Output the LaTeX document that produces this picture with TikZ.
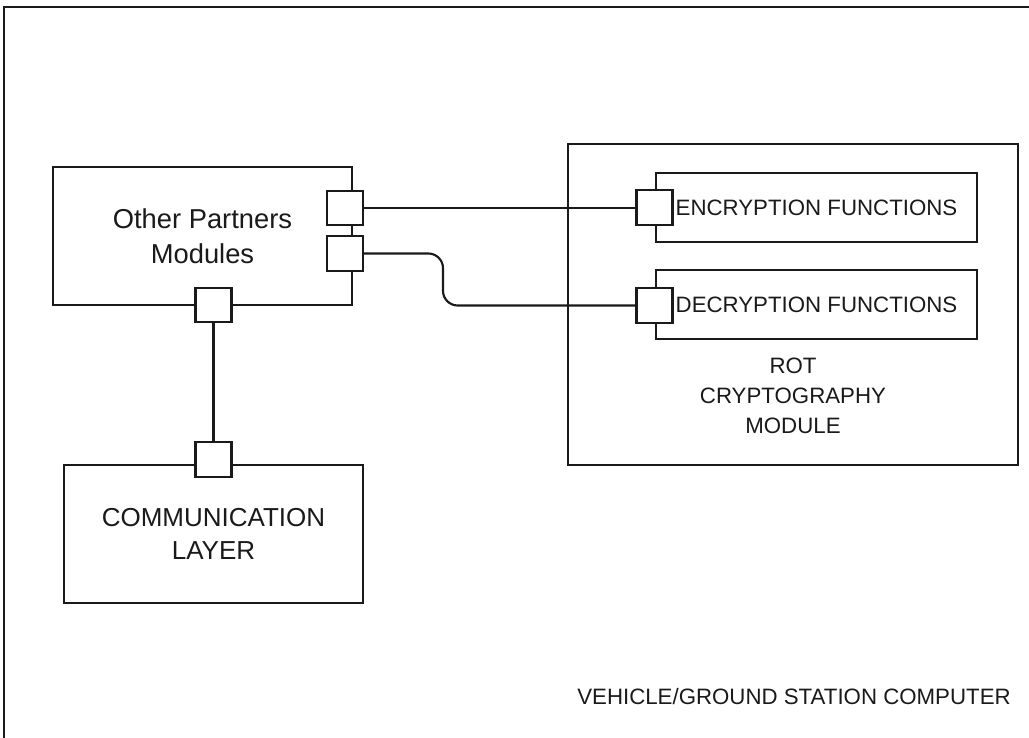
\documentclass[tikz,border=0pt]{standalone}
\usepackage{fontspec}
\setmainfont{Liberation Sans}
\definecolor{ink}{HTML}{1A1A1A}
\begin{document}
\begin{tikzpicture}[x=0.75pt,y=-0.75pt,
  box/.style={draw=ink,line width=1.6pt,fill=white,rectangle,inner sep=0pt,align=center,text=ink},
  port/.style={draw=ink,line width=1.6pt,fill=white,rectangle,inner sep=0pt,minimum width=27pt,minimum height=26pt},
  wire/.style={draw=ink,line width=1.6pt},
  lbl/.style={text=ink,align=center,inner sep=0pt}]
\useasboundingbox (0,0) rectangle (1029,738);
\begin{scope}
\clip (0,0) rectangle (1029,738);
\draw[ink,line width=1.7pt] (4,7) rectangle (1045,760);
\end{scope}
% ROT module
\node[box,minimum width=337.5pt,minimum height=240.75pt] (rot) at (793,304.5) {};
\node[box,minimum width=240.75pt,minimum height=51.75pt,font=\fontsize{16.7}{20}\selectfont] (enc) at (816.5,207.5) {ENCRYPTION FUNCTIONS};
\node[box,minimum width=240.75pt,minimum height=51.75pt,font=\fontsize{16.7}{20}\selectfont] (dec) at (816.5,304.5) {DECRYPTION FUNCTIONS};
\node[lbl,font=\fontsize{16.7}{22.5}\selectfont] (rotlbl) at (793,396) {ROT\\CRYPTOGRAPHY\\MODULE};
% Other partners
\node[box,minimum width=224.25pt,minimum height=103.5pt,font=\fontsize{20.5}{26.2}\selectfont] (other) at (202.5,236) {Other Partners\\Modules};
% Communication layer
\node[box,minimum width=224.25pt,minimum height=103.5pt,font=\fontsize{19.5}{24.7}\selectfont] (comm) at (213.5,534) {COMMUNICATION\\LAYER};
% ports
\node[port] (p1) at (345,208) {};
\node[port] (p2) at (345,253.5) {};
\node[port] (p3) at (213.5,305) {};
\node[port] (p4) at (213.5,459.5) {};
\node[port] (pe) at (654.5,207.5) {};
\node[port] (pd) at (654.5,305.5) {};
% connectors
\draw[wire] (p1.east) -- (p1.east -| pe.west);
\draw[wire,rounded corners=11pt] (p2.east) -- (443,253.5) -- (443,305.5) -- (pd.west);
\draw[wire] (p3.south) -- (p4.north);
% frame label
\node[lbl,font=\fontsize{16.7}{20}\selectfont] (frame) at (794,697) {VEHICLE/GROUND STATION COMPUTER};
\end{tikzpicture}
\end{document}
